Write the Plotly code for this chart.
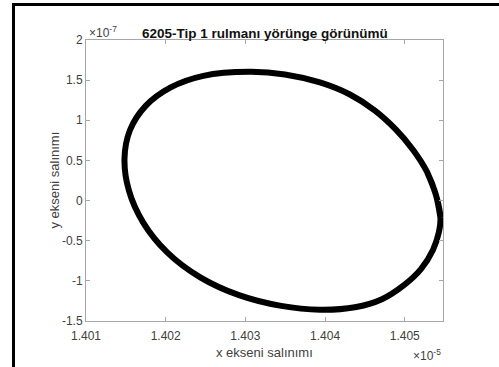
import plotly.graph_objects as go

# Orbit of the bearing (x in units of 1e-5, y in units of 1e-7), one full revolution
x_orbit = [1.405448, 1.405391, 1.405279, 1.405103, 1.404890, 1.404626, 1.404312, 1.403936,
           1.403497, 1.403058, 1.402473, 1.402063, 1.401749, 1.401551, 1.401483, 1.401538,
           1.401718, 1.402019, 1.402429, 1.402920, 1.403450, 1.403936, 1.404375, 1.404714,
           1.404990, 1.405203, 1.405354, 1.405429]
y_orbit = [-0.216, 0.071, 0.359, 0.634, 0.884, 1.121, 1.321, 1.471,
           1.571, 1.603, 1.554, 1.410, 1.180, 0.876, 0.522, 0.127,
           -0.274, -0.645, -0.953, -1.178, -1.312, -1.360, -1.329, -1.229,
           -1.054, -0.854, -0.616, -0.391]

x_ticks = [1.401, 1.402, 1.403, 1.404, 1.405]
y_ticks = [-1.5, -1, -0.5, 0, 0.5, 1, 1.5, 2]
x_range = [1.401, 1.40548]
y_range = [-1.5, 2]

title_text = "6205-Tip 1 rulmanı yörünge görünümü"
x_label = "x ekseni salınımı"
y_label = "y ekseni salınımı"
x_exp = "×10<sup>-5</sup>"
y_exp = "×10<sup>-7</sup>"

W, H = 499, 367
L, R, T, B = 86, 56, 40, 46
pw, ph = W - L - R, H - T - B

font_family = "Liberation Sans, Arial, sans-serif"
tick_color = "#404040"
axis_color = "#a6a6a6"

# close the loop and run a little past the start so the spline joins smoothly
x_path = x_orbit + x_orbit[:3]
y_path = y_orbit + y_orbit[:3]

fig = go.Figure()
fig.add_trace(go.Scatter(
    x=x_path, y=y_path, mode="lines",
    line=dict(color="black", width=6, shape="spline", smoothing=1.0),
    hoverinfo="skip", showlegend=False,
))

axis_common = dict(
    showgrid=False, zeroline=False, showline=True, linecolor=axis_color, linewidth=1,
    mirror="ticks", ticks="inside", ticklen=4, tickcolor=axis_color, tickwidth=1,
    tickfont=dict(family=font_family, size=12, color=tick_color),
)

fig.update_layout(
    width=W, height=H,
    margin=dict(l=L, r=R, t=T, b=B),
    paper_bgcolor="white", plot_bgcolor="white",
    xaxis=dict(range=x_range, tickvals=x_ticks, ticktext=[f"{v:.3f}" for v in x_ticks],
               ticklabelstandoff=4, **axis_common),
    yaxis=dict(range=y_range, tickvals=y_ticks, ticktext=[f"{v:g}" for v in y_ticks],
               **axis_common),
    annotations=[
        dict(text=f"<b>{title_text}</b>", xref="paper", yref="paper", x=0.5, y=1,
             xanchor="center", yanchor="middle", yshift=7, showarrow=False,
             font=dict(family=font_family, size=13.5, color="#111111")),
        dict(text=x_label, xref="paper", yref="paper", x=0.5, y=0,
             xanchor="center", yanchor="middle", yshift=-31, showarrow=False,
             font=dict(family=font_family, size=13, color=tick_color)),
        dict(text=y_label, xref="paper", yref="paper", x=0, y=0.5, textangle=-90,
             xanchor="center", yanchor="middle", xshift=-32, showarrow=False,
             font=dict(family=font_family, size=13, color=tick_color)),
        dict(text=y_exp, xref="paper", yref="paper", x=0, y=1,
             xanchor="left", yanchor="middle", xshift=1, yshift=8, showarrow=False,
             font=dict(family=font_family, size=12, color=tick_color)),
        dict(text=x_exp, xref="paper", yref="paper", x=1, y=0,
             xanchor="right", yanchor="middle", yshift=-34, showarrow=False,
             font=dict(family=font_family, size=12, color=tick_color)),
    ],
    shapes=[
        # outer frame lines (left and top)
        dict(type="line", xref="paper", yref="paper",
             x0=(13.5 - L) / pw, x1=(13.5 - L) / pw, y0=1 + (T - 3) / ph, y1=-(B + 1) / ph,
             line=dict(color="black", width=3)),
        dict(type="line", xref="paper", yref="paper",
             x0=(12 - L) / pw, x1=(W + 1 - L) / pw, y0=1 + (T - 4.5) / ph, y1=1 + (T - 4.5) / ph,
             line=dict(color="black", width=3)),
    ],
)

fig.write_html("out.html")
